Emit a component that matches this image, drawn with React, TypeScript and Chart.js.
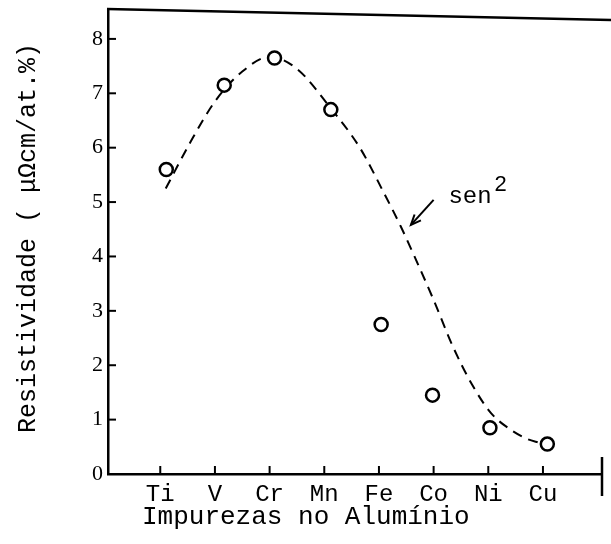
import React, { useEffect, useRef } from "react";
import { Chart, registerables } from "chart.js";

Chart.register(...registerables);

// Categories (impurities in aluminium) and their axis positions
const categories = ["Ti", "V", "Cr", "Mn", "Fe", "Co", "Ni", "Cu"];
const categoryPos = [1, 2, 3, 4, 5, 6, 7, 8];

// Measured points (open circles)
const pointX = [1.11, 2.17, 3.09, 4.12, 5.04, 5.98, 7.03, 8.08];
const pointY = [5.6, 7.15, 7.65, 6.7, 2.75, 1.45, 0.85, 0.55];

// Dashed sen^2 curve
const curveX = [1.1, 1.55, 2.0, 2.5, 3.0, 3.5, 4.1, 4.65, 5.1, 5.4, 5.65, 6.0, 6.35, 6.7, 7.05, 7.4, 7.7, 7.95];
const curveY = [5.25, 6.1, 6.85, 7.4, 7.67, 7.45, 6.75, 6.0, 5.15, 4.55, 4.0, 3.2, 2.35, 1.65, 1.12, 0.82, 0.65, 0.57];

const yTicks = [0, 1, 2, 3, 4, 5, 6, 7, 8];

const xTitle = "Impurezas no Alumínio";
const yTitle = "Resistividade ( μΩcm/at.%)";
const curveLabel = "sen";
const curveLabelSup = "2";

const MONO = "'Liberation Mono', 'DejaVu Sans Mono', monospace";
const SERIF = "'Liberation Serif', 'DejaVu Serif', serif";

const decorPlugin = {
  id: "decor",
  afterDraw(chart: any) {
    const ctx = chart.ctx;
    const xs = chart.scales.x;
    const ys = chart.scales.y;
    const area = chart.chartArea;
    ctx.save();
    ctx.strokeStyle = "#000";
    ctx.fillStyle = "#000";
    ctx.lineCap = "butt";

    // inward tick marks
    ctx.lineWidth = 2;
    ys.ticks.forEach((t: any) => {
      const py = ys.getPixelForValue(t.value);
      ctx.beginPath();
      ctx.moveTo(area.left, py);
      ctx.lineTo(area.left + 8, py);
      ctx.stroke();
    });
    xs.ticks.forEach((t: any) => {
      const px = xs.getPixelForValue(t.value);
      ctx.beginPath();
      ctx.moveTo(px, area.bottom);
      ctx.lineTo(px, area.bottom - 8);
      ctx.stroke();
    });

    // top border (slightly slanted as in the scan)
    ctx.lineWidth = 2.5;
    ctx.beginPath();
    ctx.moveTo(area.left - 1, area.top);
    ctx.lineTo(chart.width, area.top + 11);
    ctx.stroke();

    // right border stub
    ctx.beginPath();
    ctx.moveTo(area.right, area.bottom - 17);
    ctx.lineTo(area.right, area.bottom + 22);
    ctx.stroke();

    // axis titles
    ctx.font = `26px ${MONO}`;
    ctx.textBaseline = "middle";
    ctx.textAlign = "left";
    ctx.fillText(xTitle, 142, area.bottom + 43);

    ctx.save();
    ctx.font = `25px ${MONO}`;
    ctx.translate(28, 238);
    ctx.rotate(-Math.PI / 2);
    ctx.textAlign = "center";
    ctx.fillText(yTitle, 0, 0);
    ctx.restore();

    // sen^2 annotation with arrow
    const lx = xs.getPixelForValue(6.27);
    const ly = ys.getPixelForValue(4.98);
    ctx.font = `24px ${MONO}`;
    ctx.textBaseline = "alphabetic";
    ctx.textAlign = "left";
    ctx.fillText(curveLabel, lx, ly);
    const w = ctx.measureText(curveLabel).width;
    ctx.font = `22px 'Liberation Sans', sans-serif`;
    ctx.fillText(curveLabelSup, lx + w + 3, ly - 12);

    const tx = xs.getPixelForValue(6.0);
    const ty = ys.getPixelForValue(5.04);
    const hx = xs.getPixelForValue(5.585);
    const hy = ys.getPixelForValue(4.58);
    ctx.lineWidth = 2;
    ctx.beginPath();
    ctx.moveTo(tx, ty);
    ctx.lineTo(hx, hy);
    ctx.stroke();
    const ang = Math.atan2(hy - ty, hx - tx);
    const hl = 11;
    ctx.beginPath();
    ctx.moveTo(hx + Math.cos(ang + Math.PI - 0.4) * hl, hy + Math.sin(ang + Math.PI - 0.4) * hl);
    ctx.lineTo(hx, hy);
    ctx.lineTo(hx + Math.cos(ang + Math.PI + 0.4) * hl, hy + Math.sin(ang + Math.PI + 0.4) * hl);
    ctx.stroke();

    ctx.restore();
  },
};

export default function App() {
  const ref = useRef<HTMLCanvasElement>(null);

  useEffect(() => {
    if (!ref.current) return;
    const chart = new Chart(ref.current, {
      type: "scatter",
      data: {
        datasets: [
          {
            label: "points",
            data: pointX.map((x, i) => ({ x, y: pointY[i] })),
            pointRadius: 6.5,
            pointBorderWidth: 2.5,
            pointBackgroundColor: "#fff",
            pointBorderColor: "#000",
            showLine: false,
            order: 0,
          },
          {
            label: "sen2",
            data: curveX.map((x, i) => ({ x, y: curveY[i] })),
            showLine: true,
            borderColor: "#000",
            borderWidth: 2,
            borderDash: [10, 7],
            pointRadius: 0,
            cubicInterpolationMode: "monotone",
            fill: false,
            order: 1,
          },
        ],
      },
      options: {
        responsive: false,
        animation: false,
        layout: { padding: { left: 0, top: 9, right: 2, bottom: 0 } },
        plugins: { legend: { display: false }, tooltip: { enabled: false } },
        scales: {
          x: {
            type: "linear",
            min: 0.044,
            max: 9.08,
            grid: { display: false, drawTicks: false },
            border: { display: true, color: "#000", width: 2.5 },
            afterBuildTicks: (s: any) => {
              s.ticks = categoryPos.map((v) => ({ value: v }));
            },
            afterFit: (s: any) => {
              s.height = 70;
              s.paddingLeft = 0;
              s.paddingRight = 0;
            },
            ticks: {
              padding: 6,
              color: "#000",
              maxRotation: 0,
              autoSkip: false,
              font: { family: MONO, size: 24 },
              callback: (v: any) => {
                const i = categoryPos.indexOf(Number(v));
                return i >= 0 ? categories[i] : "";
              },
            },
          },
          y: {
            type: "linear",
            min: 0,
            max: 8.55,
            grid: { display: false, drawTicks: false },
            border: { display: true, color: "#000", width: 2.5 },
            afterBuildTicks: (s: any) => {
              s.ticks = yTicks.map((v) => ({ value: v }));
            },
            afterFit: (s: any) => {
              s.width = 108;
              s.paddingTop = 0;
              s.paddingBottom = 0;
            },
            ticks: {
              padding: 5,
              color: "#000",
              font: { family: SERIF, size: 22 },
              callback: (v: any) => String(v),
            },
          },
        },
      },
      plugins: [decorPlugin],
    });
    return () => chart.destroy();
  }, []);

  return (
    <div style={{ position: "absolute", left: 0, top: 0, width: 611, height: 544, background: "#fff" }}>
      <canvas ref={ref} width={611} height={544} style={{ width: 611, height: 544 }} />
    </div>
  );
}
